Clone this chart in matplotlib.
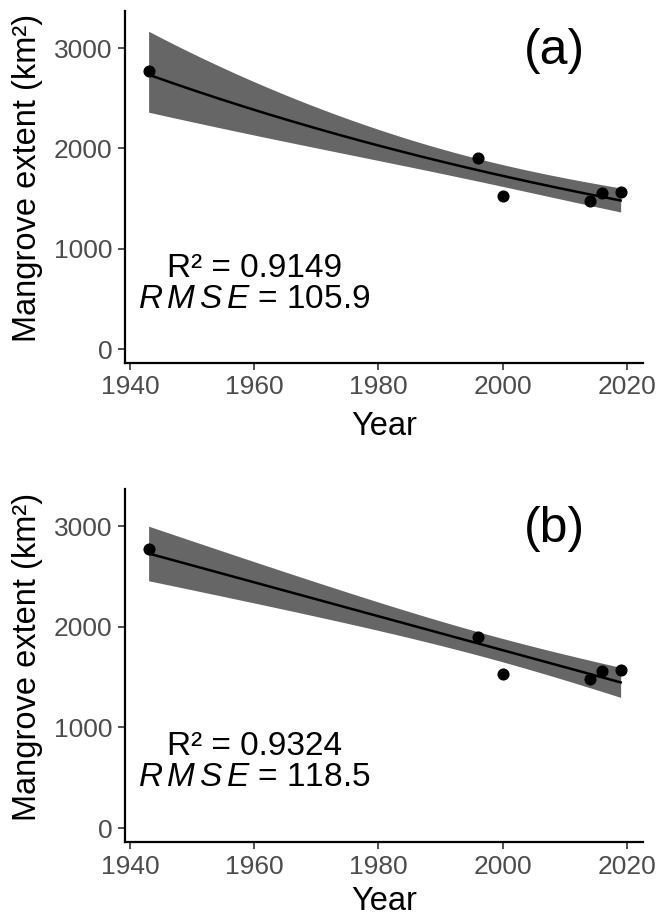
import numpy as np
import matplotlib
matplotlib.use("Agg")
import matplotlib.pyplot as plt

plt.rcParams['font.family'] = ['Liberation Sans', 'DejaVu Sans']
plt.rcParams['mathtext.fontset'] = 'custom'
plt.rcParams['mathtext.it'] = 'Liberation Sans:italic'
plt.rcParams['mathtext.rm'] = 'Liberation Sans'

# Data
years = np.array([1943, 1996, 2000, 2014, 2016, 2019], dtype=float)
extent = np.array([2770, 1900, 1530, 1480, 1560, 1570], dtype=float)

panel_labels = ["(a)", "(b)"]
r2_labels = ["R² = 0.9149", "R² = 0.9324"]
rmse_labels = [r"$R\,M\,S\,E$ = 105.9", r"$R\,M\,S\,E$ = 118.5"]
models = ["exp", "lin"]

xticks = [1940, 1960, 1980, 2000, 2020]
yticks = [0, 1000, 2000, 3000]


def fit_band(x, y, grid, log=False):
    yy = np.log(y) if log else y
    n = len(x)
    X = np.column_stack([np.ones(n), x])
    beta, *_ = np.linalg.lstsq(X, yy, rcond=None)
    resid = yy - X @ beta
    sigma = np.sqrt(np.sum(resid ** 2) / (n - 2))
    xm = x.mean()
    sxx = np.sum((x - xm) ** 2)
    fit = beta[0] + beta[1] * grid
    se = sigma * np.sqrt(1.0 / n + (grid - xm) ** 2 / sxx)
    lo, hi = fit - 1.96 * se, fit + 1.96 * se
    if log:
        return np.exp(fit), np.exp(lo), np.exp(hi)
    return fit, lo, hi


fig = plt.figure(figsize=(6.59, 9.16), dpi=100)
W, H = 659.0, 916.0
axes_px = [(125, 643, 11, 363), (125, 643, 489, 842)]
xlabel_y = [-0.137, -0.125]

grid = np.linspace(years.min(), years.max(), 200)

for i, (l, r, t, b) in enumerate(axes_px):
    ax = fig.add_axes([l / W, 1 - b / H, (r - l) / W, (b - t) / H])
    fit, lo, hi = fit_band(years, extent, grid, log=(models[i] == "exp"))
    ax.fill_between(grid, lo, hi, color='#666666', linewidth=0, zorder=1)
    ax.plot(grid, fit, color='black', linewidth=1.8, zorder=2)
    ax.scatter(years, extent, s=76, color='black', zorder=3, linewidths=0)

    ax.set_xlim(1939.2, 2022.6)
    ax.set_ylim(-139, 3370)
    ax.set_xticks(xticks)
    ax.set_yticks(yticks)
    ax.tick_params(axis='both', labelsize=19, labelcolor='#4D4D4D', length=5,
                   width=1.2, color='#333333', pad=4)
    for s in ['top', 'right']:
        ax.spines[s].set_visible(False)
    for s in ['left', 'bottom']:
        ax.spines[s].set_linewidth(1.6)
    ax.set_xlabel("Year", fontsize=23.5)
    ax.set_ylabel("Mangrove extent (km²)", fontsize=23.5)
    ax.xaxis.set_label_coords(0.5, xlabel_y[i])
    ax.yaxis.set_label_coords(-0.158, 0.525)

    ax.text(2008.4, 2968, panel_labels[i], fontsize=36, ha='center', va='center')
    ax.text(1960, 807, r2_labels[i], fontsize=24, ha='center', va='center')
    ax.text(1960, 498, rmse_labels[i], fontsize=24, ha='center', va='center')

fig.savefig("out.png", dpi=100)
